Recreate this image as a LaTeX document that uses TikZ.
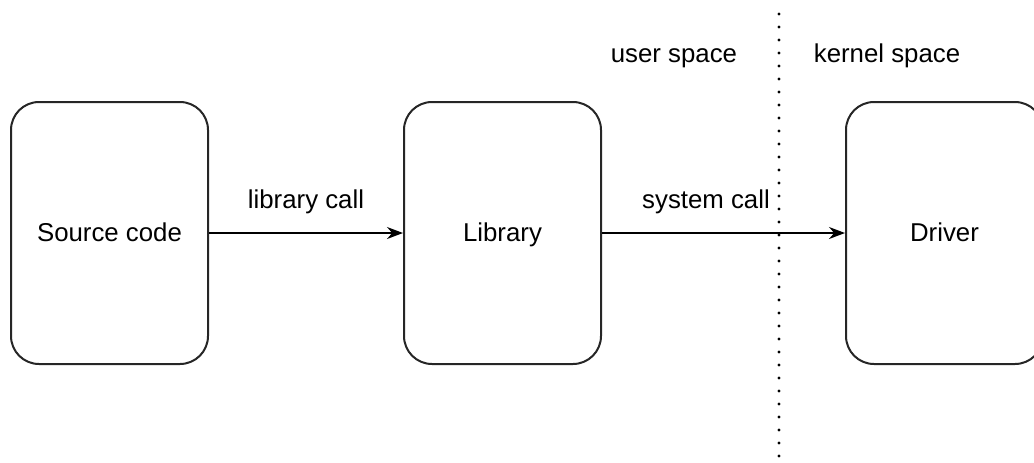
\documentclass[tikz,border=0pt]{standalone}
\usepackage{fontspec}
\setmainfont{Liberation Sans}
\usetikzlibrary{arrows.meta}
\begin{document}
\begin{tikzpicture}[x=0.5pt,y=-0.5pt,
  box/.style={draw=black!85, line width=1pt, rounded corners=14pt, minimum width=98.5pt, minimum height=131pt, fill=white, font=\fontsize{12.9}{15}\selectfont, text height=11.6pt, text depth=3.1pt},
  lbl/.style={font=\fontsize{12.9}{15}\selectfont, inner sep=0pt, anchor=base},
  conn/.style={line width=0.8pt, -{Stealth[length=8pt,width=6pt]}},
  sep/.style={line width=1.7pt, line cap=round, dash pattern=on 0pt off 6.5pt}]
\useasboundingbox (0,0) rectangle (1034,462);
\clip (0,0) rectangle (1034,462);
\coordinate (septop) at (779,14);
\coordinate (sepbot) at (779,470);
\draw[sep] (septop) -- (sepbot);
\node[box] (src) at (109.5,233) {Source code};
\node[box] (lib) at (502.5,233) {Library};
\node[box] (drv) at (944.5,233) {Driver};
\draw[conn] (src) -- (lib);
\draw[conn] (lib) -- (drv);
\node[lbl] (lc) at (306,208) {library call};
\node[lbl] (sc) at (706,208.5) {system call};
\node[lbl] (us) at (674,62) {user space};
\node[lbl] (ks) at (887,62) {kernel space};
\end{tikzpicture}
\end{document}
